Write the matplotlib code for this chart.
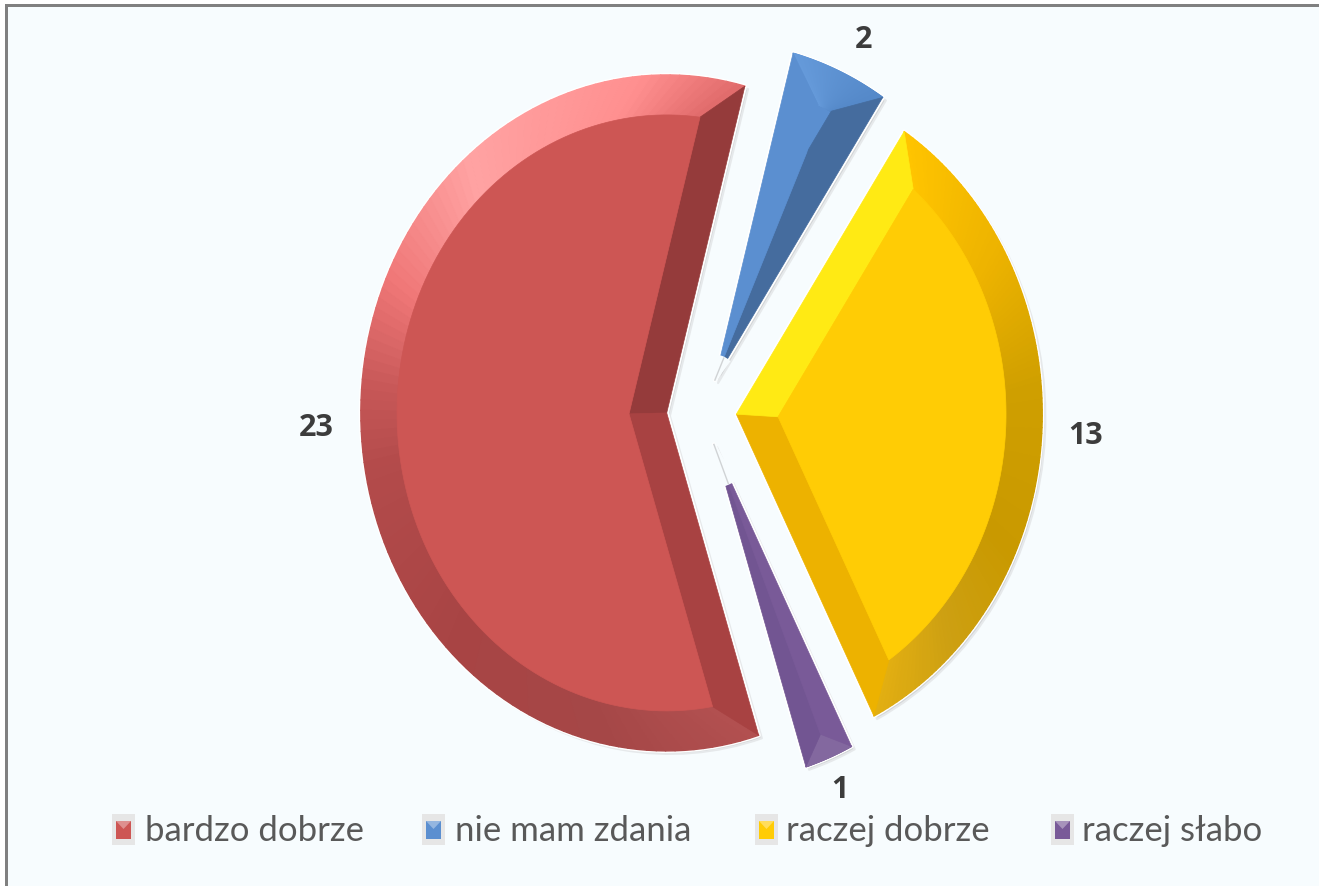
import matplotlib
matplotlib.use('Agg')
import matplotlib.pyplot as plt
from matplotlib.collections import PolyCollection
from matplotlib.colors import to_rgb
from matplotlib.patches import Polygon, Rectangle, Wedge
import numpy as np

categories = ['bardzo dobrze', 'nie mam zdania', 'raczej dobrze', 'raczej słabo']
values = [23, 2, 13, 1]

# style per slice: base, face, low edge facet, high edge facet
base_colors = ['#CD5654', '#5B8FD0', '#FFCC05', '#795A98']
face_colors = ['#CD5654', None, '#FFCC05', None]
low_facets = ['#953B3B', '#456C9E', '#EDB200', '#725592']
high_facets = ['#A84242', '#5B8FD0', '#FFEA14', '#795A98']
rim_stops = [
    ([0, .09, .26, .38, .47, .54, .71, .87, 1],
     ['#E06A6A', '#FF8F8F', '#FFA3A3', '#F07878', '#C85858', '#B34B4B', '#A84444', '#A54747', '#B25050']),
    ([0, 1], ['#5488C8', '#659ADA']),
    ([0, .15, .32, .57, .78, 1],
     ['#E3AF12', '#CDA012', '#C99900', '#CF9F00', '#EDB300', '#FFC400']),
    ([0, 1], ['#83689F', '#83689F']),
]
explode = [39, 35, 38, 35]
tip_trim = [0, 24, 0, 42]

BG = '#F7FCFE'
XS = 0.905  # the picture is squeezed horizontally
W, H = 1319, 887
BEVEL = 40


def px(x, y):
    return x / XS, H - y


def pol(center, r, deg):
    a = np.radians(deg)
    return center[0] + r * np.cos(a), center[1] + r * np.sin(a)


def draw_bevel(ax, w, i):
    c, r = w.center, w.r
    t1, t2 = w.theta1, w.theta2
    half = (t2 - t1) / 2
    s = np.sin(np.radians(half))
    b = BEVEL
    if b / s >= r - b:
        # narrow slice, the three facets meet in one point
        b = r * s / (1 + s)
        phi = half
    else:
        phi = np.degrees(np.arcsin(b / (r - b)))
    inner = pol(c, b / s, t1 + half)

    # rim, coloured along the arc
    fr = np.linspace(0, 1, 121)
    outer_a = t1 + fr * (t2 - t1)
    inner_a = t1 + phi + fr * (t2 - t1 - 2 * phi)
    rgb = [to_rgb(k) for k in rim_stops[i][1]]
    polys, cols = [], []
    for j in range(len(fr) - 1):
        polys.append([pol(c, r, outer_a[j]), pol(c, r, outer_a[j + 1]),
                      pol(c, r - b, inner_a[j + 1]), pol(c, r - b, inner_a[j])])
        m = (fr[j] + fr[j + 1]) / 2
        cols.append([np.interp(m, rim_stops[i][0], [q[n] for q in rgb]) for n in range(3)])
    ax.add_collection(PolyCollection(polys, facecolors=cols, edgecolors=cols, linewidths=1, zorder=3))

    ax.add_patch(Polygon([c, pol(c, r, t1), pol(c, r - b, t1 + phi), inner],
                         fc=low_facets[i], ec=low_facets[i], lw=.5, zorder=3))
    ax.add_patch(Polygon([c, pol(c, r, t2), pol(c, r - b, t2 - phi), inner],
                         fc=high_facets[i], ec=high_facets[i], lw=.5, zorder=3))
    if face_colors[i]:
        arc = [pol(c, r - b, a) for a in inner_a]
        ax.add_patch(Polygon([inner] + arc, fc=face_colors[i], ec=face_colors[i], lw=.5, zorder=4))
    if tip_trim[i]:
        # the thin slices fade out before their apex, only a thin shadow is left
        ax.add_patch(Wedge(c, tip_trim[i], t1 - 6, t2 + 6, fc=BG, ec=BG, lw=2, zorder=5))
        end = pol(c, tip_trim[i], t1 + half)
        ax.plot([c[0], end[0]], [c[1], end[1]], color='#D0D3D5', lw=1, zorder=5.5)


def legend_key(ax, x, y, color):
    ax.add_patch(Rectangle(px(x, y + 31), 23 / XS, 31, fc='#E6E6E6', ec='none', zorder=2))
    ax.add_patch(Rectangle(px(x + 4, y + 25), 15 / XS, 18, fc=color, ec='none', zorder=3))
    notch = [px(x + 4, y + 7), px(x + 11.5, y + 15), px(x + 19, y + 7)]
    ax.add_patch(Polygon(notch, fc='white', ec='none', alpha=.35, zorder=4))


fig = plt.figure(figsize=(W / 100, H / 100), dpi=100, facecolor='white')
ax = fig.add_axes([0, 0, 1, 1])

wedges, _ = ax.pie(values, colors=base_colors, startangle=-72.5, counterclock=False,
                   radius=338, center=px(702, 413), explode=explode,
                   wedgeprops={'edgecolor': '#FFFFFF', 'linewidth': 3, 'joinstyle': 'round'})
ax.set_aspect('auto')
ax.set_xlim(0, W / XS)
ax.set_ylim(0, H)
ax.axis('off')

ax.add_patch(Rectangle((0, 0), W / XS, H, fc='white', ec='none', zorder=-3))
ax.add_patch(Rectangle(px(5, H), (W - 5) / XS, H - 5, fc='#808080', ec='none', zorder=-2))
ax.add_patch(Rectangle(px(8, H), (W - 8) / XS, H - 8, fc=BG, ec='none', zorder=-1))

for i, w in enumerate(wedges):
    # soft shadow to the lower right
    ax.add_patch(Wedge((w.center[0] + 3.5, w.center[1] - 3), w.r, w.theta1, w.theta2,
                       fc='#D2D5D7', ec='#E6E9EB', lw=1.5, joinstyle='round', zorder=0.5))
    draw_bevel(ax, w, i)

# data labels
label_pos = [(316, 428), (864, 40), (1086, 436), (840, 790)]
for v, (x, y) in zip(values, label_pos):
    xd, yd = px(x, y)
    ax.text(xd, yd, str(v), ha='center', va='center', fontsize=22, fontweight='bold',
            family=['Open Sans', 'DejaVu Sans'], color='#3C3C3C', zorder=6)

# legend
key_x = [112, 422, 755, 1051]
text_x = [145, 455, 786, 1082]
for name, col, kx, tx in zip(categories, base_colors, key_x, text_x):
    legend_key(ax, kx, 815, col)
    xd, yd = px(tx, 841)
    ax.text(xd, yd, name, ha='left', va='baseline', fontsize=25,
            family=['Lato', 'Open Sans', 'DejaVu Sans'], color='#595959', zorder=6)

fig.savefig('out.png', dpi=100, facecolor='white')
